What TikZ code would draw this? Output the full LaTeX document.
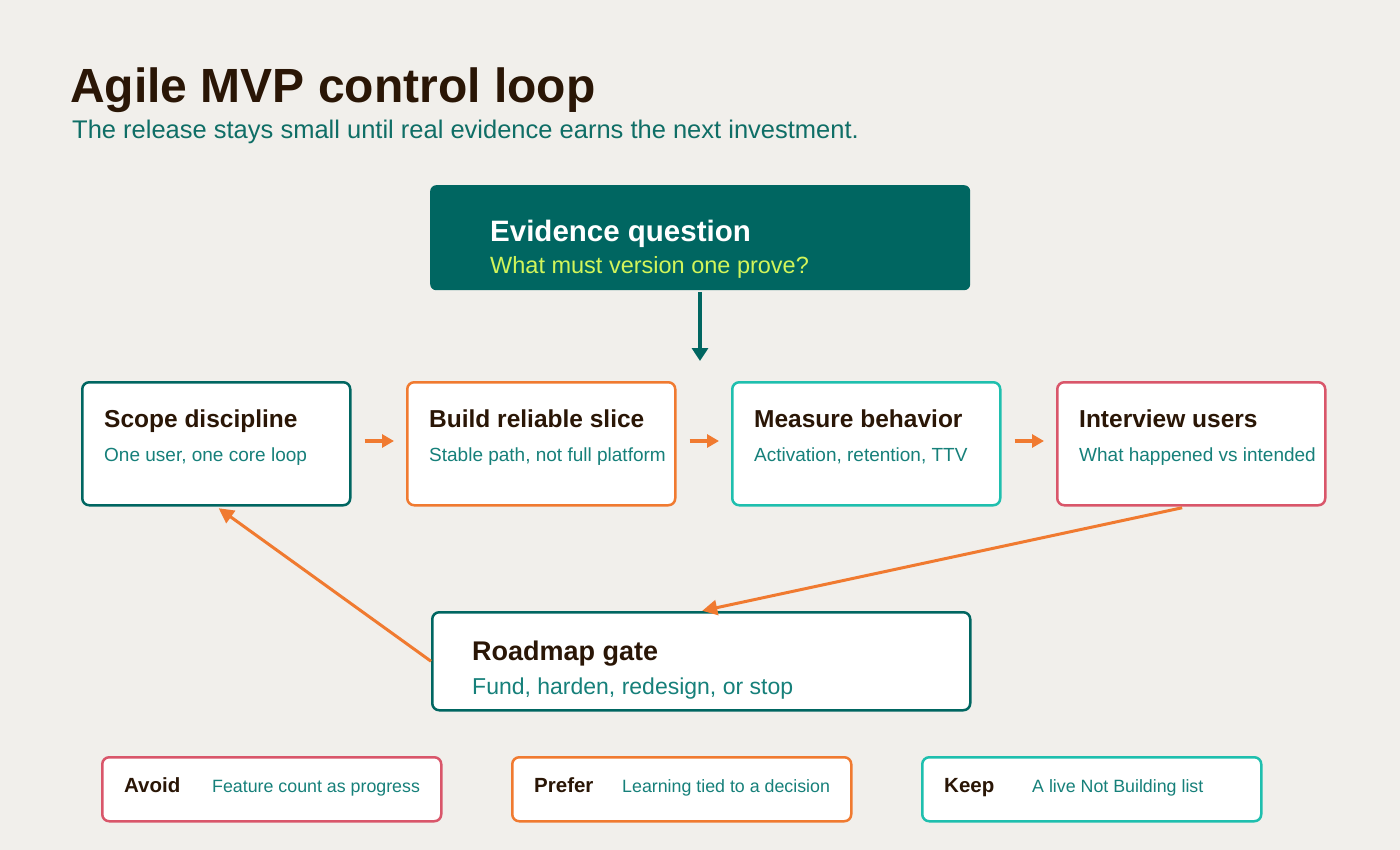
\documentclass[tikz,border=0pt]{standalone}
\usepackage{fontspec}
\setmainfont{Liberation Sans}
\usetikzlibrary{arrows.meta}
\definecolor{bg}{HTML}{F1EFEB}
\definecolor{ink}{HTML}{2A1606}
\definecolor{deepteal}{HTML}{006661}
\definecolor{subteal}{HTML}{0F6E66}
\definecolor{txteal}{HTML}{16807A}
\definecolor{lime}{HTML}{D2F55A}
\definecolor{orangeA}{HTML}{F07A30}
\definecolor{turq}{HTML}{1FBFAE}
\definecolor{rose}{HTML}{D9566A}
\tikzset{
  card/.style={draw=#1, line width=2.5pt, fill=white, rounded corners=7pt, inner sep=0pt, anchor=north west},
  ttl/.style={anchor=base west, inner sep=0pt, text=ink, font=\bfseries\fontsize{24.5}{28}\selectfont},
  sub/.style={anchor=base west, inner sep=0pt, text=txteal, font=\fontsize{19}{22}\selectfont},
  flow/.style={draw=orangeA, line width=3.5pt, -{Triangle[length=12pt,width=13pt]}},
}
\begin{document}
\begin{tikzpicture}[x=1pt,y=-1pt]
\fill[bg] (0,0) rectangle (1400,850);
\useasboundingbox (0,0) rectangle (1400,850);

\node[anchor=base west, inner sep=0pt, text=ink, font=\bfseries\fontsize{48}{56}\selectfont] (title) at (70,103) {Agile MVP control loop};
\node[anchor=base west, inner sep=0pt, text=subteal, font=\fontsize{25.5}{30}\selectfont] (subtitle) at (72,139) {The release stays small until real evidence earns the next investment.};

% evidence question
\node[fill=deepteal, rounded corners=6pt, minimum width=540pt, minimum height=105pt, anchor=north west, inner sep=0pt] (evq) at (430,185) {};
\node[anchor=base west, inner sep=0pt, text=white, font=\bfseries\fontsize{29.5}{33}\selectfont] (evqt) at (490,242) {Evidence question};
\node[anchor=base west, inner sep=0pt, text=lime, font=\fontsize{23.5}{27}\selectfont] (evqs) at (490,274) {What must version one prove?};
\coordinate (evqend) at (700,361);
\draw[draw=deepteal, line width=4pt, -{Triangle[length=13pt,width=16pt]}] (700,292) -- (evqend);

% row cards
\node[card=deepteal, minimum width=268pt, minimum height=123pt] (scope) at (81,381) {};
\node[card=orangeA, minimum width=268pt, minimum height=123pt] (build) at (406,381) {};
\node[card=turq, minimum width=268pt, minimum height=123pt] (measure) at (731,381) {};
\node[card=rose, minimum width=268pt, minimum height=123pt] (interview) at (1056,381) {};

\node[ttl] (scopet) at (104,427) {Scope discipline};
\node[sub] (scopes) at (104,461) {One user, one core loop};
\node[ttl] (buildt) at (429,427) {Build reliable slice};
\node[sub] (builds) at (429,461) {Stable path, not full platform};
\node[ttl] (measuret) at (754,427) {Measure behavior};
\node[sub] (measures) at (754,461) {Activation, retention, TTV};
\node[ttl] (interviewt) at (1079,427) {Interview users};
\node[sub] (interviews) at (1079,461) {What happened vs intended};

\draw[flow, shorten <=13pt, shorten >=12pt] (scope.east |- 0,441) -- (build.west |- 0,441);
\draw[flow, shorten <=13pt, shorten >=12pt] (build.east |- 0,441) -- (measure.west |- 0,441);
\draw[flow, shorten <=13pt, shorten >=12pt] (measure.east |- 0,441) -- (interview.west |- 0,441);

% roadmap gate
\node[card=deepteal, minimum width=538pt, minimum height=98pt] (gate) at (431,611) {};
\node[anchor=base west, inner sep=0pt, text=ink, font=\bfseries\fontsize{27}{31}\selectfont] (gatet) at (472,660) {Roadmap gate};
\node[anchor=base west, inner sep=0pt, text=txteal, font=\fontsize{23}{27}\selectfont] (gates) at (472,694) {Fund, harden, redesign, or stop};

\draw[flow, line width=3pt, -{Triangle[length=15pt,width=15pt]}, shorten <=6pt, shorten >=1pt] (interview.south -| 1188,0) -- (gate.north);
\draw[flow, line width=3pt, -{Triangle[length=15pt,width=15pt]}, shorten >=3pt] (gate.west) -- (scope.south);

% bottom cards
\node[card=rose, minimum width=339pt, minimum height=64pt] (avoid) at (101,756) {};
\node[card=orangeA, minimum width=339pt, minimum height=64pt] (prefer) at (511,756) {};
\node[card=turq, minimum width=339pt, minimum height=64pt] (keep) at (921,756) {};
\tikzset{btl/.style={anchor=base west, inner sep=0pt, text=ink, font=\bfseries\fontsize{20.5}{24}\selectfont},
  bsb/.style={anchor=base west, inner sep=0pt, text=txteal, font=\fontsize{17.8}{21}\selectfont}}
\node[btl] (avoidt) at (124,792) {Avoid};
\node[bsb] (avoids) at (212,792) {Feature count as progress};
\node[btl] (prefert) at (534,792) {Prefer};
\node[bsb] (prefers) at (622,792) {Learning tied to a decision};
\node[btl] (keept) at (944,792) {Keep};
\node[bsb] (keeps) at (1032,792) {A live Not Building list};
\end{tikzpicture}
\end{document}
